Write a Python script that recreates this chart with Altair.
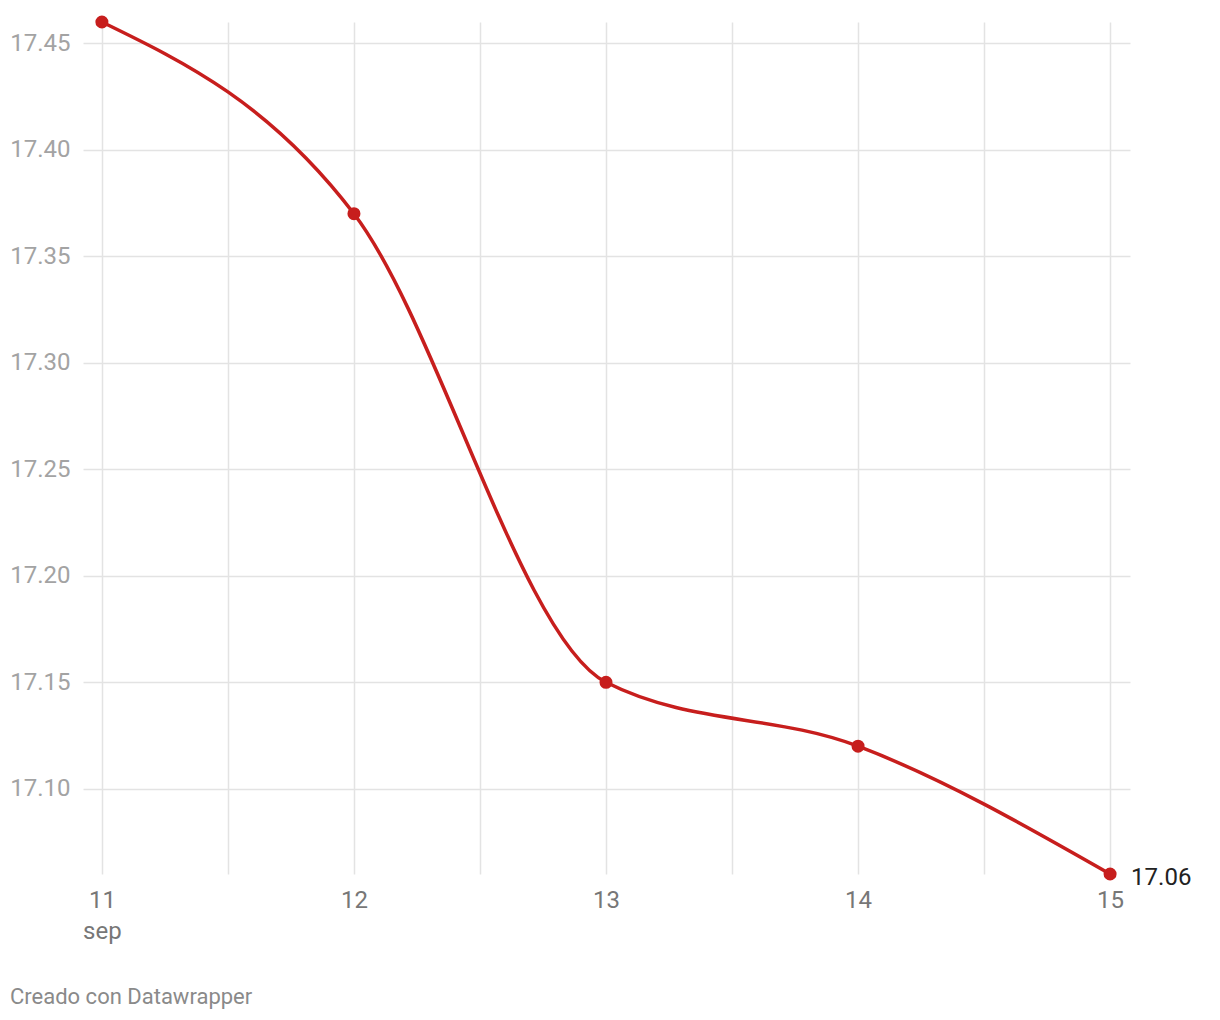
import altair as alt
import pandas as pd

days = [11, 12, 13, 14, 15]
values = [17.46, 17.37, 17.15, 17.12, 17.06]
y_ticks = [17.10, 17.15, 17.20, 17.25, 17.30, 17.35, 17.40, 17.45]
x_grid = [11, 11.5, 12, 12.5, 13, 13.5, 14, 14.5, 15]
month = "sep"
credit = "Creado con Datawrapper"

df = pd.DataFrame({"day": days, "value": values})
last = df.tail(1)

RED = "#c71e1d"
FONT = "Roboto"

xscale = alt.Scale(domain=[10.925, 15.079], nice=False, zero=False)
yscale = alt.Scale(domain=[17.06, 17.46], nice=False, zero=False)

line = alt.Chart(df).mark_line(color=RED, strokeWidth=3.5, interpolate="monotone").encode(
    x=alt.X("day:Q", scale=xscale,
            axis=alt.Axis(values=x_grid, ticks=False, domain=False,
                          grid=True, gridColor="#e3e3e3", gridWidth=1.5,
                          labelFont=FONT, labelFontSize=24, labelColor="#777777",
                          labelPadding=14, labelLineHeight=31, title=None,
                          labelOverlap=False,
                          labelExpr=f"datum.value % 1 != 0 ? '' : (datum.value == 11 ? ['11', '{month}'] : format(datum.value, 'd'))")),
    y=alt.Y("value:Q", scale=yscale,
            axis=alt.Axis(values=y_ticks, format=".2f", ticks=False, domain=False,
                          grid=True, gridColor="#e3e3e3", gridWidth=1.5,
                          labelFont=FONT, labelFontSize=24, labelColor="#a3a3a3",
                          labelPadding=13, title=None)),
)

points = alt.Chart(df).mark_circle(color=RED, size=170, opacity=1).encode(
    x=alt.X("day:Q", scale=xscale),
    y=alt.Y("value:Q", scale=yscale),
)

label = alt.Chart(last).mark_text(align="left", baseline="middle", dx=21, dy=4,
                                  font=FONT, fontSize=24, color="#222222").encode(
    x=alt.X("day:Q", scale=xscale),
    y=alt.Y("value:Q", scale=yscale),
    text=alt.Text("value:Q", format=".2f"),
)

chart = alt.layer(line, points, label).properties(
    width=1047,
    height=852,
    autosize=alt.AutoSizeParams(type="none"),
    padding={"left": 75, "top": 14, "right": 80, "bottom": 150},
    title=alt.TitleParams(credit, orient="bottom", anchor="start", frame="group",
                          align="left", dx=-73, offset=44,
                          font=FONT, fontSize=22, fontWeight="normal", color="#8a8a8a"),
).configure_view(stroke=None)

chart.save("out.html", embed_options={"renderer": "svg", "actions": False})
